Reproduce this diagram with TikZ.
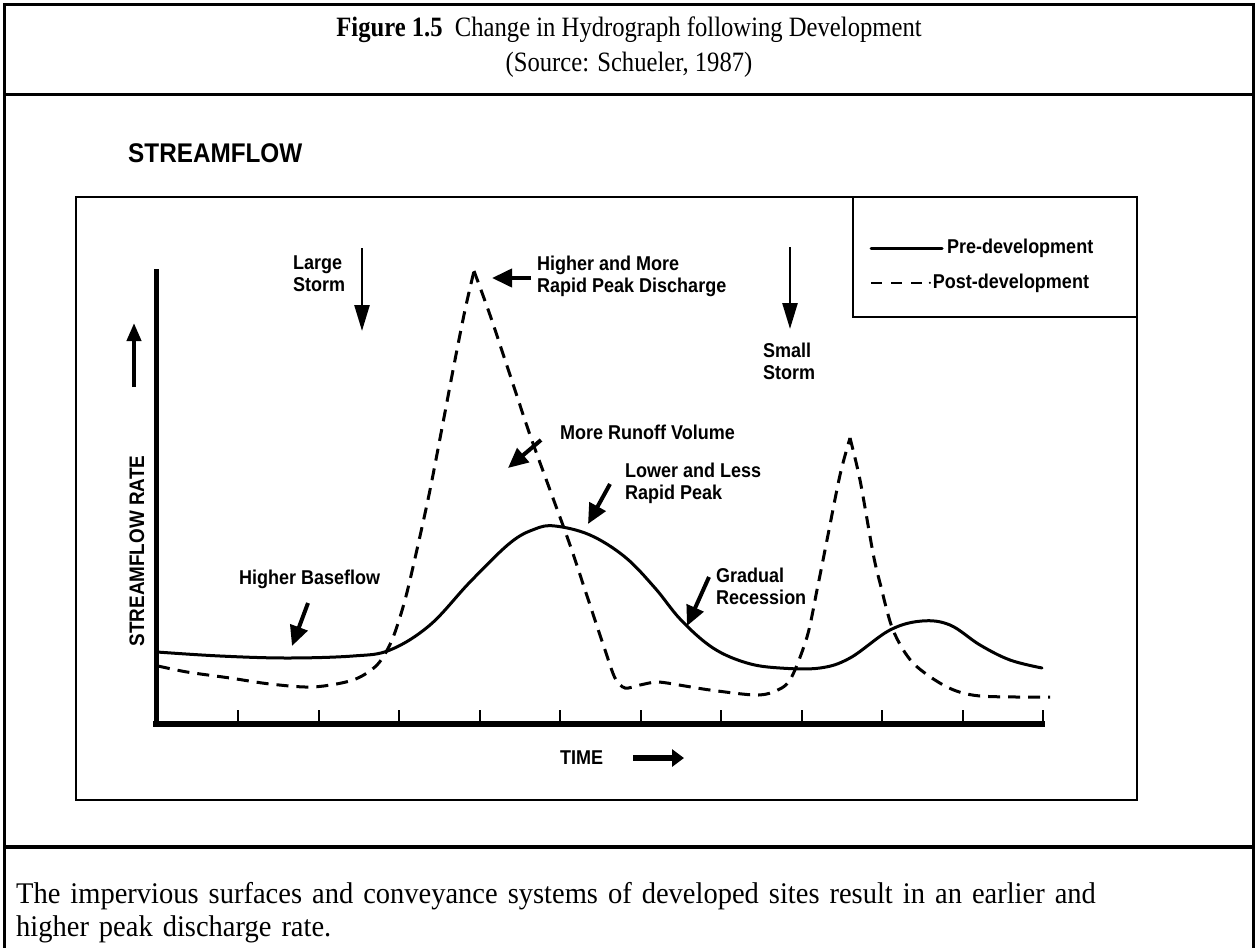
\documentclass[tikz,border=0pt]{standalone}
\usepackage{fontspec}
\setmainfont{Liberation Serif}
\setsansfont{Liberation Sans}
\newfontfamily\titlefont[FakeStretch=0.88]{Liberation Serif}
\newfontfamily\capfont[FakeStretch=0.95]{Liberation Serif}
\newfontfamily\lblfont[FakeStretch=0.9]{Liberation Sans}
\usetikzlibrary{arrows.meta}
\tikzset{
  frame/.style={line width=3.5pt},
  thinbox/.style={line width=1.6pt},
  lbl/.style={font=\lblfont\bfseries\fontsize{20}{22}\selectfont, inner sep=0pt, align=left, anchor=west},
  ann/.style={line width=4pt, -{Triangle[length=20pt,width=18pt]}},
  storm/.style={line width=2.6pt, -{Triangle[length=26pt,width=15pt]}},
  pre/.style={line width=3pt, line cap=round, line join=round},
  post/.style={line width=3pt, dash pattern=on 12pt off 8pt},
  tick/.style={line width=2pt}
}
\begin{document}
\begin{tikzpicture}[x=1pt,y=-1pt]
\useasboundingbox (0,0) rectangle (1257,947);
% outer frame
\draw[frame] (4.5,950) -- (4.5,4.5) -- (1253.5,4.5) -- (1253.5,950);
\draw[frame] (4.5,94.5) -- (1253.5,94.5);
\draw[frame] (4.5,847) -- (1253.5,847);
% title
\node[inner sep=0pt, align=center, font=\titlefont\fontsize{28}{35}\selectfont] (title) at (629,47)
  {\textbf{Figure 1.5}\ \ Change in Hydrograph following Development\\(Source: Schueler, 1987)};
% caption
\node[inner sep=0pt, align=left, anchor=north west, font=\capfont\fontsize{30}{33}\selectfont, text width=1220pt] (cap) at (16,882)
  {The impervious surfaces and conveyance systems of developed sites result in an earlier and\\higher peak discharge rate.};
% STREAMFLOW heading
\node[anchor=west, inner sep=0pt, font=\lblfont\bfseries\fontsize{27}{30}\selectfont] (head) at (128,153) {STREAMFLOW};
% inner box and legend box
\draw[thinbox] (76,197) rectangle (1137,800);
\draw[thinbox] (853,197) rectangle (1137,317);
% legend
\coordinate (ls1) at (871,248); \coordinate (ls2) at (942,248);
\draw[pre] (ls1) -- (ls2);
\node[lbl] (lpre) at (947,248) {Pre-development};
\coordinate (ld1) at (871,283); \coordinate (ld2) at (922,283);
\draw[line width=2.8pt, dash pattern=on 11pt off 9pt] (ld1) -- (ld2);
\node[lbl] (lpost) at (927,283) {$\cdot$Post-development};
% axes
\coordinate (o) at (156,724);
\coordinate (ytop) at (156,269);
\coordinate (xend) at (1045,724);
\draw[line width=5pt] (156,727) -- (ytop);
\draw[line width=6.5pt] (153,724) -- (xend);
\foreach \i in {0,...,10} {
  \draw[tick] ({238+80.5*\i},724) -- ({238+80.5*\i},710);
}
% axis labels
\node[rotate=90, inner sep=0pt, font=\lblfont\bfseries\fontsize{21}{22}\selectfont] (ylab) at (137,551) {STREAMFLOW RATE};
\coordinate (ua1) at (134,387); \coordinate (ua2) at (134,323);
\draw[line width=4pt, -{Triangle[length=18pt,width=14pt]}] (ua1) -- (ua2);
\node[lbl] (time) at (560,758) {TIME};
\coordinate (ta1) at (633,758); \coordinate (ta2) at (684,758);
\draw[line width=6pt, -{Triangle[length=12pt,width=17pt]}] (ta1) -- (ta2);
% pre-development curve
\draw[pre] plot[smooth, tension=0.6] coordinates {
 (157,652) (220,656) (287,658) (353,656) (390,650) (430,625) (470,582) (510,543)
 (535,529) (555,526) (590,535) (625,557) (655,588) (681,620) (713,648) (747,663)
 (780,668) (820,668) (850,658) (890,630) (922,621) (950,625) (980,645) (1010,660) (1042,668)};
% post-development curve
\draw[post] plot[smooth, tension=0.5] coordinates {
 (158,666) (187,672) (230,678) (270,684) (313,687) (353,680) (377,665) (392,640)
 (405,600) (418,545) (430,490) (442,428) (454,365) (465,310) (474,271)};
\draw[post] plot[smooth, tension=0.5] coordinates {
 (474,271) (490,315) (510,375) (530,435) (550,490) (570,545) (590,605) (605,650)
 (615,678) (625,688) (640,685) (658,682) (685,686) (710,690) (754,695) (773,692)
 (790,680) (807,637) (817,590) (827,540) (840,475) (850,438)};
\draw[post] plot[smooth, tension=0.5] coordinates {
 (850,438) (860,480) (873,553) (880,583) (893,630) (913,663) (947,687) (980,696) (1050,697)};
% annotations
\node[lbl] (large) at (293,274) {Large\\Storm};
\coordinate (ls_a) at (362,248); \coordinate (ls_b) at (362,331);
\draw[storm] (ls_a) -- (ls_b);
\node[lbl] (higher) at (537,276) {Higher and More\\Rapid Peak Discharge};
\coordinate (h_a) at (531,278); \coordinate (h_b) at (492,278);
\draw[ann] (h_a) -- (h_b);
\node[lbl] (small) at (763,361) {Small\\Storm};
\coordinate (ss_a) at (790,247); \coordinate (ss_b) at (790,329);
\draw[storm] (ss_a) -- (ss_b);
\node[lbl] (runoff) at (560,432) {More Runoff Volume};
\coordinate (r_a) at (541,440); \coordinate (r_b) at (508,468);
\draw[ann] (r_a) -- (r_b);
\node[lbl] (lower) at (625,483) {Lower and Less\\Rapid Peak};
\coordinate (lo_a) at (610,484); \coordinate (lo_b) at (588,524);
\draw[ann] (lo_a) -- (lo_b);
\node[lbl] (grad) at (716,586) {Gradual\\Recession};
\coordinate (g_a) at (709,577); \coordinate (g_b) at (687,626);
\draw[ann] (g_a) -- (g_b);
\node[lbl] (base) at (239,579) {Higher Baseflow};
\coordinate (b_a) at (308,603); \coordinate (b_b) at (292,646);
\draw[ann] (b_a) -- (b_b);
\end{tikzpicture}
\end{document}
